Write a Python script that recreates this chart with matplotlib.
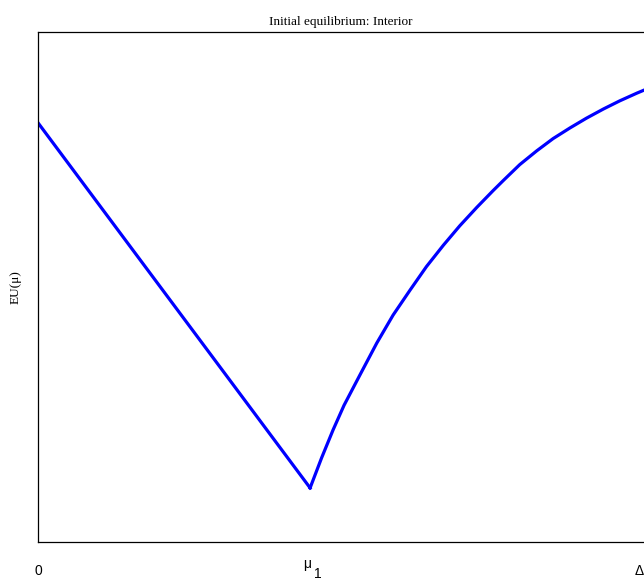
import matplotlib
matplotlib.use("Agg")
import matplotlib.pyplot as plt

# expected utility against mu
mu_left = [0.0, 0.449]
eu_left = [0.822, 0.106]

mu_right = [0.449, 0.468, 0.487, 0.505, 0.531, 0.559, 0.586, 0.614, 0.641,
            0.669, 0.696, 0.724, 0.751, 0.768, 0.795, 0.823, 0.850, 0.878,
            0.905, 0.933, 0.960, 0.988, 1.0]
eu_right = [0.106, 0.165, 0.220, 0.268, 0.327, 0.390, 0.445, 0.494, 0.540,
            0.582, 0.620, 0.656, 0.689, 0.709, 0.740, 0.767, 0.791, 0.812,
            0.831, 0.849, 0.865, 0.880, 0.886]

mu1 = 0.449
tick_pos = [0.0, mu1, 1.0]
tick_labels = ['0', '', 'Δ']

PX = 0.72  # points per pixel at dpi 100

fig = plt.figure(figsize=(6.44, 5.83), dpi=100)
ax = fig.add_axes([38/644, 41/583, 606/644, 510/583])

ax.plot(mu_left, eu_left, color='#0000ff', lw=2.3, solid_joinstyle='miter')
ax.plot(mu_right, eu_right, color='#0000ff', lw=2.3)

ax.set_xlim(0, 1)
ax.set_ylim(0, 1)
ax.set_xticks(tick_pos)
ax.set_xticklabels(tick_labels, fontfamily='Liberation Sans', fontsize=10)
ax.get_xticklabels()[2].set_horizontalalignment('right')
ax.set_yticks([])
ax.tick_params(axis='x', length=0, pad=16)
ax.spines['right'].set_visible(False)
for s in ['left', 'top', 'bottom']:
    ax.spines[s].set_linewidth(0.9)

# mu_1 label, subscript the same size as the other tick labels
ax.annotate('μ', xy=(mu1, 0), xycoords=('data', 'axes fraction'),
            xytext=(-2.5*PX, -26*PX), textcoords='offset points',
            ha='center', va='baseline', fontfamily='Liberation Sans', fontsize=10)
ax.annotate('1', xy=(mu1, 0), xycoords=('data', 'axes fraction'),
            xytext=(7.5*PX, -36*PX), textcoords='offset points',
            ha='center', va='baseline', fontfamily='Liberation Sans', fontsize=10)

ax.set_title('Initial equilibrium: Interior', fontfamily='Liberation Serif',
             fontsize=9.5, pad=5)
ax.set_ylabel('EU(μ)', fontfamily='Liberation Serif', fontsize=9.5, labelpad=12)

fig.savefig('out.png', dpi=100)
